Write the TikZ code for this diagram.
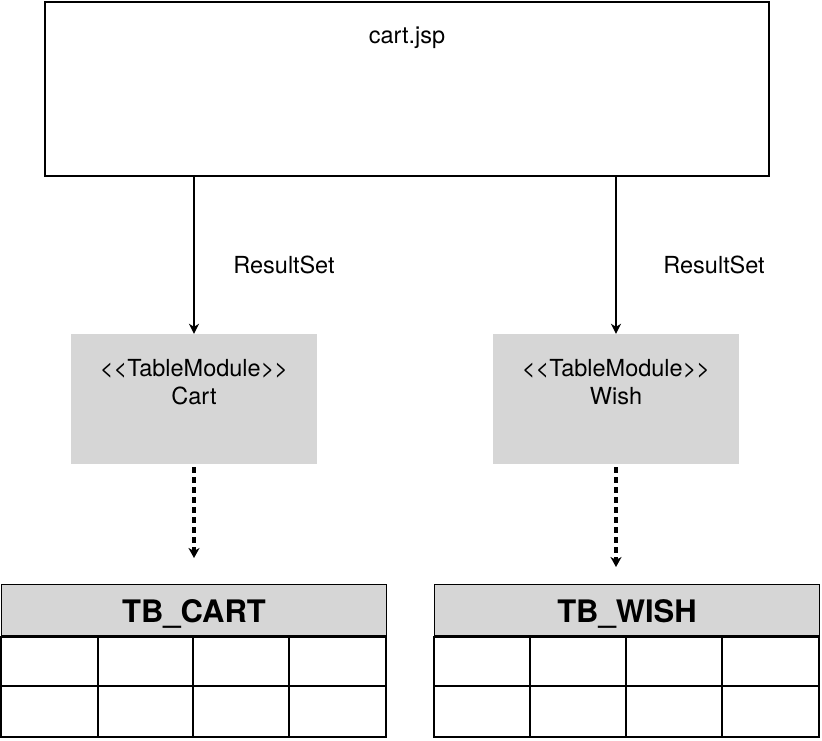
\documentclass[tikz,border=0pt]{standalone}
\usepackage{fontspec}
\setmainfont{TeX Gyre Heros}[Ligatures=NoCommon]
\usetikzlibrary{arrows.meta}
\definecolor{boxgray}{HTML}{D6D6D6}
\begin{document}
\begin{tikzpicture}[x=1pt,y=-1pt,
  txt/.style={font=\fontsize{23.5}{28}\selectfont, inner sep=0pt},
  tbtxt/.style={font=\fontsize{31}{37}\selectfont\bfseries, inner sep=0pt},
  pagebox/.style={draw=black, line width=1.8pt, fill=white, minimum width=724pt, minimum height=174pt, inner sep=0pt},
  module/.style={fill=boxgray, minimum width=246pt, minimum height=130pt, inner sep=0pt},
  header/.style={draw=black, line width=1.2pt, fill=boxgray, minimum width=385pt, minimum height=51pt, inner sep=0pt, anchor=north west},
  gridline/.style={draw=black, line width=1.2pt},
  headline/.style={draw=black, line width=3pt},
  solidarrow/.style={line width=1.6pt, -{Stealth[length=10pt,width=10pt,inset=3pt]}},
  dasharrow/.style={line width=3.4pt, dash pattern=on 6pt off 4pt, -{Stealth[length=10pt,width=11pt,inset=3pt]}}
]
\useasboundingbox (0,0) rectangle (822,740);

% top page box
\node[pagebox] (jsp) at (407,89) {};
\node[txt, anchor=base] (jsplbl) at (407,43) {cart.jsp};

% table modules
\node[module] (cartm) at (194,399) {};
\node[txt, anchor=base] (cartmlbl) at (194,376) {{<}{<}TableModule{>}{>}};
\node[txt, anchor=base] (cartmname) at (194,404) {Cart};

\node[module] (wishm) at (616,399) {};
\node[txt, anchor=base] (wishmlbl) at (616,376) {{<}{<}TableModule{>}{>}};
\node[txt, anchor=base] (wishmname) at (616,404) {Wish};

% ResultSet arrows
\draw[solidarrow] (cartm.north |- jsp.south) -- (cartm.north);
\draw[solidarrow] (wishm.north |- jsp.south) -- (wishm.north);
\node[txt, anchor=base] (rs1) at (284,273) {ResultSet};
\node[txt, anchor=base] (rs2) at (714,273) {ResultSet};

% TB_CART table
\node[header] (tbcart) at (1,584) {};
\node[tbtxt, anchor=base] (tbcartlbl) at (194,622) {TB\_CART};
\draw[gridline] (tbcart.south west) rectangle (386,737);
\draw[gridline] (1,686) -- (386,686);
\foreach \x in {98,193,289} \draw[gridline] (\x,635) -- (\x,737);
\draw[headline] (tbcart.south west) -- (tbcart.south east);

% TB_WISH table
\node[header] (tbwish) at (434,584) {};
\node[tbtxt, anchor=base] (tbwishlbl) at (627,622) {TB\_WISH};
\draw[gridline] (tbwish.south west) rectangle (819,737);
\draw[gridline] (434,686) -- (819,686);
\foreach \x in {530,626,722} \draw[gridline] (\x,635) -- (\x,737);
\draw[headline] (tbwish.south west) -- (tbwish.south east);

% dashed dependency arrows
\coordinate (cartend) at (194,558);
\coordinate (wishend) at (616,567);
\draw[dasharrow] ([yshift=-3pt]cartm.south) -- (cartend);
\draw[dasharrow] ([yshift=-3pt]wishm.south) -- (wishend);
\end{tikzpicture}
\end{document}
